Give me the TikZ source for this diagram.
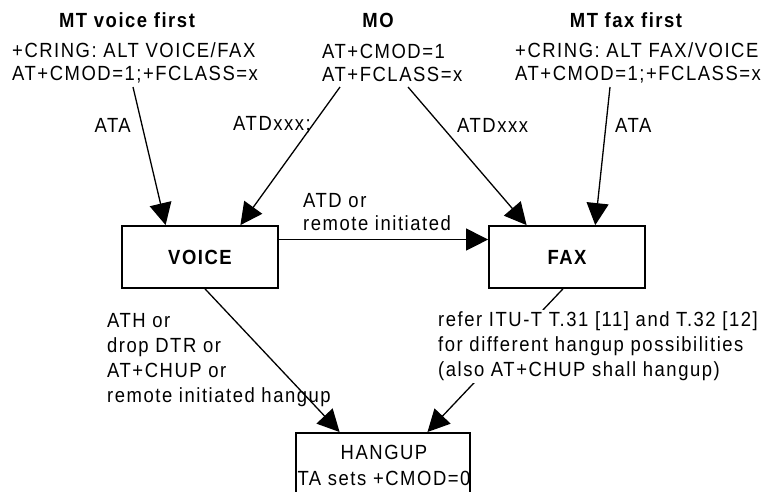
\documentclass[tikz,border=0pt]{standalone}
\usepackage{fontspec}
\setmainfont{Liberation Sans}[LetterSpace=7.5,FakeStretch=0.9]
\usetikzlibrary{arrows.meta,calc}
\tikzset{
  txt/.style={inner sep=0pt, font=\fontsize{20.5}{23}\selectfont, align=left},
  ttl/.style={inner sep=0pt, font=\fontsize{20.5}{23}\selectfont\bfseries},
  box/.style={draw, line width=1.8pt, inner sep=0pt, font=\fontsize{20.5}{23}\selectfont\bfseries},
  arr/.style={line width=1.3pt, -{Triangle[length=22pt,width=22pt]}},
}
\begin{document}
\begin{tikzpicture}[x=1pt,y=-1pt]
\useasboundingbox (0,0) rectangle (770,491);
\clip (0,0) rectangle (770,491);
% headers
\node[ttl] (mtvt) at (127,20) {MT voice first};
\node[txt, anchor=west] (mtv) at (12,63) {+CRING: ALT VOICE/FAX\\AT+CMOD=1;+FCLASS=x};
\node[ttl] (mot) at (378,20) {MO};
\node[txt, anchor=west] (mo) at (322,63) {AT+CMOD=1\\AT+FCLASS=x};
\node[ttl] (mtft) at (626,20) {MT fax first};
\node[txt, anchor=west] (mtf) at (515,63) {+CRING: ALT FAX/VOICE\\AT+CMOD=1;+FCLASS=x};
% boxes
\node[box, minimum width=156, minimum height=62] (voice) at (200,257) {VOICE};
\node[box, minimum width=156, minimum height=62] (fax) at (567,257) {FAX};
\node[box, minimum width=174, minimum height=90, anchor=north] (hang) at (383,432) {};
\node[txt] (hangt) at (384,452) {HANGUP};
\node[txt] (hangs) at (384,478) {TA sets +CMOD=0};
% connector start points
\coordinate (a1) at (133,87);
\coordinate (a2) at (340,87);
\coordinate (a3) at (408,87);
\coordinate (a4) at (610,87);
% connectors
\draw[arr] (a1) -- ($(voice.north west)!0.282!(voice.north east)$);
\draw[arr] (a2) -- ($(voice.north west)!0.756!(voice.north east)$);
\draw[arr] (a3) -- ($(fax.north west)!0.244!(fax.north east)$);
\draw[arr] (a4) -- ($(fax.north west)!0.679!(fax.north east)$);
\draw[arr] ($(voice.north east)!0.226!(voice.south east)$) -- ($(fax.north west)!0.226!(fax.south west)$);
\draw[arr] ($(voice.south west)!0.532!(voice.south east)$) -- ($(hang.north west)!0.253!(hang.north east)$);
\draw[arr] ($(fax.south west)!0.474!(fax.south east)$) -- ($(hang.north west)!0.753!(hang.north east)$);
% labels
\node[txt, anchor=east] (l1) at (131,125) {ATA};
\node[txt, anchor=east] (l2) at (311,125) {ATDxxx;};
\node[txt, anchor=west] (l3) at (457,125) {ATDxxx};
\node[txt, anchor=west] (l4) at (615,125) {ATA};
\node[txt, anchor=west] (l5) at (303,212) {ATD or\\remote initiated};
\node[txt, anchor=west, font=\fontsize{20.5}{25}\selectfont] (l6) at (107,360.5) {ATH or\\drop DTR or\\AT+CHUP or\\remote initiated hangup};
\node[txt, anchor=west, font=\fontsize{20.5}{25}\selectfont, fill=white, inner sep=2pt] (l7) at (436,346.5) {refer ITU-T T.31 [11] and T.32 [12]\\for different hangup possibilities\\(also AT+CHUP shall hangup)};
\end{tikzpicture}
\end{document}
